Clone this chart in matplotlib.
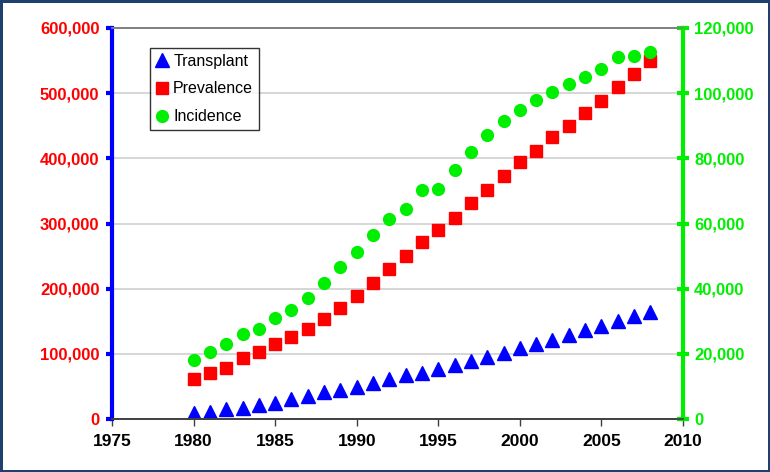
import matplotlib
matplotlib.use("Agg")
import matplotlib.pyplot as plt
import matplotlib.ticker as mtick

plt.rcParams["font.family"] = ["Liberation Sans", "DejaVu Sans"]

years = list(range(1980, 2009))

# left axis
transplant = [9.7, 11.2, 15.8, 17.4, 21.5, 25.0, 31.0, 35.0, 41.0, 44.5,
              48.6, 55.0, 61.0, 67.5, 71.0, 76.7, 83.0, 88.5, 95.6, 100.8,
              109.4, 114.6, 121.0, 129.0, 136.6, 142.7, 151.0, 158.0, 164.0]
prevalence = [61, 71, 79, 93, 103, 114.6, 126, 138.6, 153, 170,
              188, 208, 229.7, 250, 271, 289.5, 309, 331, 352, 373,
              394, 412, 432, 450, 469.5, 488, 509, 530, 549]
# right axis
incidence = [18.1, 20.6, 22.9, 26.1, 27.7, 30.9, 33.5, 37.1, 41.6, 46.8,
             51.2, 56.4, 61.4, 64.5, 70.2, 70.5, 76.5, 82.0, 87.2, 91.6,
             94.8, 98.0, 100.4, 102.7, 105.1, 107.4, 111.0, 111.5, 112.6]

transplant = [v * 1000 for v in transplant]
prevalence = [v * 1000 for v in prevalence]
incidence = [v * 1000 for v in incidence]

fig = plt.figure(figsize=(7.7, 4.72), dpi=100)
fig.patch.set_edgecolor("#1f3f6f")
fig.patch.set_linewidth(2.5)
ax = fig.add_axes([112 / 770, 1 - 419 / 472, 571 / 770, 391 / 472])
ax2 = ax.twinx()

l1, = ax.plot(years, transplant, linestyle="none", marker="^", markersize=10,
              color="#0000ff", label="Transplant")
l2, = ax.plot(years, prevalence, linestyle="none", marker="s", markersize=8,
              color="#ff0000", label="Prevalence")
l3, = ax2.plot(years, incidence, linestyle="none", marker="o", markersize=8.5,
               color="#00ee00", label="Incidence")

ax.set_xlim(1975, 2010)
ax.set_ylim(0, 600000)
ax2.set_ylim(0, 120000)
ax.set_xticks(range(1975, 2011, 5))
ax.set_yticks(range(0, 600001, 100000))
ax2.set_yticks(range(0, 120001, 20000))
fmt = mtick.StrMethodFormatter("{x:,.0f}")
ax.yaxis.set_major_formatter(fmt)
ax2.yaxis.set_major_formatter(fmt)

ax.grid(axis="y", color="#d0d0d0", linewidth=1.2)
ax.set_axisbelow(True)

ax.spines["left"].set_color("#0000ff")
ax.spines["left"].set_linewidth(3)
ax2.spines["right"].set_color("#00ee00")
ax2.spines["right"].set_linewidth(3)
ax2.spines["left"].set_visible(False)
for a in (ax, ax2):
    a.spines["top"].set_color("#808080")
    a.spines["top"].set_linewidth(1.2)
    a.spines["bottom"].set_color("#404040")
    a.spines["bottom"].set_linewidth(1.2)

ax.tick_params(axis="y", colors="#0000ff", length=4, width=3, labelsize=12,
               labelcolor="#ff0000", pad=5)
ax2.tick_params(axis="y", direction="inout", colors="#00ee00", length=8, width=3,
                labelsize=12, labelcolor="#00ee00", pad=4)
ax.tick_params(axis="x", colors="#404040", length=5, width=1, labelsize=12.5,
               labelcolor="black", pad=6)
for lbl in ax.get_yticklabels() + ax2.get_yticklabels() + ax.get_xticklabels():
    lbl.set_fontweight("bold")

leg = ax.legend(handles=[l1, l2, l3], loc="upper left",
                bbox_to_anchor=(38 / 571, 1 - 20 / 391), fontsize=11.5,
                frameon=True, fancybox=False, edgecolor="black",
                handlelength=0.8, handletextpad=0.3, borderpad=0.35,
                labelspacing=0.8, borderaxespad=0)
leg.get_frame().set_linewidth(1)
leg.set_zorder(5)

fig.savefig("out.png", dpi=100, edgecolor=fig.get_edgecolor())
